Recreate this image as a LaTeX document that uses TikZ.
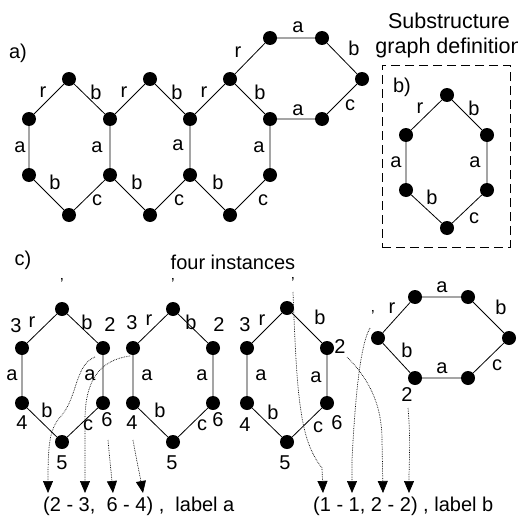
\documentclass[tikz,border=0pt]{standalone}
\usepackage{fontspec}
\setmainfont{Liberation Sans}
\usetikzlibrary{arrows.meta, positioning}
\tikzstyle{vertex} = [circle, fill=black, inner sep=0pt, minimum size=14pt]
\tikzstyle{elabel} = [inner sep=0pt]
\tikzstyle{bond} = [line width=0.8pt]
\tikzstyle{tick} = [inner sep=0pt, font=\fontsize{16}{16}\selectfont]
\tikzstyle{mapline} = [densely dotted, line width=0.7pt, -{Triangle[length=12pt,width=10pt]}]
\tikzstyle{subbox} = [draw, dash pattern=on 9pt off 5pt, line width=0.8pt, minimum width=128pt, minimum height=182pt]

\begin{document}
\begin{tikzpicture}[x=1pt, y=-1pt, font=\fontsize{20}{25}\selectfont]
	\useasboundingbox (0,0) rectangle (518,519);
	% a) the input graph
	\node[elabel] (parta) at (18,53) {a)};
	\node[vertex] (a1t) at (69,79) {};
	\node[vertex] (a1ul) at (29,119) {};
	\node[vertex] (a1ll) at (29,175) {};
	\node[vertex] (a1b) at (69,215) {};
	\node[vertex] (a12u) at (110,119) {};
	\node[vertex] (a12l) at (110,175) {};
	\node[vertex] (a2t) at (150,79) {};
	\node[vertex] (a2b) at (150,215) {};
	\node[vertex] (a23u) at (190,119) {};
	\node[vertex] (a23l) at (190,175) {};
	\node[vertex] (a3t) at (230,79) {};
	\node[vertex] (a3b) at (230,215) {};
	\node[vertex] (a3u) at (270,119) {};
	\node[vertex] (a3l) at (270,175) {};
	\node[vertex] (a4t) at (270,38) {};
	\node[vertex] (a4tr) at (322,38) {};
	\node[vertex] (a4r) at (362,79) {};
	\node[vertex] (a4br) at (322,119) {};
	\draw[bond] (a1ul) -- (a1t) -- (a12u) -- (a12l) -- (a1b) -- (a1ll) -- (a1ul);
	\draw[bond] (a12u) -- (a2t) -- (a23u) -- (a23l) -- (a2b) -- (a12l);
	\draw[bond] (a23u) -- (a3t) -- (a3u) -- (a3l) -- (a3b) -- (a23l);
	\draw[bond] (a3t) -- (a4t) -- (a4tr) -- (a4r) -- (a4br) -- (a3u);
	\node[elabel] (la1) at (43,92) {r};
	\node[elabel] (la2) at (96,92) {b};
	\node[elabel] (la3) at (20,147) {a};
	\node[elabel] (la4) at (55,182) {b};
	\node[elabel] (la5) at (97,200) {c};
	\node[elabel] (la6) at (124,92) {r};
	\node[elabel] (la7) at (177,92) {b};
	\node[elabel] (la8) at (97,147) {a};
	\node[elabel] (la9) at (137,182) {b};
	\node[elabel] (la10) at (179,200) {c};
	\node[elabel] (la11) at (204,92) {r};
	\node[elabel] (la12) at (260,92) {b};
	\node[elabel] (la13) at (178,145) {a};
	\node[elabel] (la14) at (218,182) {b};
	\node[elabel] (la15) at (263,200) {c};
	\node[elabel] (la16) at (259,147) {a};
	\node[elabel] (la17) at (238,52) {r};
	\node[elabel] (la18) at (298,27) {a};
	\node[elabel] (la19) at (354,48) {b};
	\node[elabel] (la20) at (350,105) {c};
	\node[elabel] (la21) at (298,110) {a};
	% b) the substructure
	\node[align=center, inner sep=0pt, font=\fontsize{21.5}{25}\selectfont] (deftitle) at (449,35) {Substructure\\graph definition};
	\node[subbox] (defbox) at (446,156) {};
	\node[elabel] (partb) at (402,87) {b)};
	\node[vertex] (bt) at (447,95) {};
	\node[vertex] (bul) at (406,135) {};
	\node[vertex] (bll) at (406,190) {};
	\node[vertex] (bb) at (447,228) {};
	\node[vertex] (bur) at (487,135) {};
	\node[vertex] (blr) at (487,190) {};
	\draw[bond] (bul) -- (bt) -- (bur) -- (blr) -- (bb) -- (bll) -- (bul);
	\node[elabel] (lb1) at (420,108) {r};
	\node[elabel] (lb2) at (474,108) {b};
	\node[elabel] (lb3) at (396,162) {a};
	\node[elabel] (lb4) at (475,162) {a};
	\node[elabel] (lb5) at (432,197) {b};
	\node[elabel] (lb6) at (474,218) {c};
	% c) the instances
	\node[elabel] (partc) at (23,260) {c)};
	\node[elabel] (inst) at (233,262) {four instances};
	% instance 1
	\node[vertex] (c1t) at (62,309) {};
	\node[vertex] (c1ul) at (22,348) {};
	\node[vertex] (c1ll) at (22,403) {};
	\node[vertex] (c1b) at (62,442) {};
	\node[vertex] (c1ur) at (103,348) {};
	\node[vertex] (c1lr) at (103,403) {};
	\draw[bond] (c1ul) -- (c1t) -- (c1ur) -- (c1lr) -- (c1b) -- (c1ll) -- (c1ul);
	\node[tick] (k1) at (62,284) {’};
	\node[elabel] (n1a) at (16,326) {3};
	\node[elabel] (l1a) at (32,322) {r};
	\node[elabel] (l1b) at (87,322) {b};
	\node[elabel] (n1b) at (110,325) {2};
	\node[elabel] (l1c) at (12,375) {a};
	\node[elabel] (l1d) at (90,375) {a};
	\node[elabel] (l1e) at (47,410) {b};
	\node[elabel] (n1c) at (22,423) {4};
	\node[elabel] (l1f) at (88,425) {c};
	\node[elabel] (n1d) at (107,420) {6};
	\node[elabel] (n1e) at (62,463) {5};
	% instance 2
	\node[vertex] (c2t) at (173,309) {};
	\node[vertex] (c2ul) at (133,348) {};
	\node[vertex] (c2ll) at (133,403) {};
	\node[vertex] (c2b) at (173,442) {};
	\node[vertex] (c2ur) at (213,348) {};
	\node[vertex] (c2lr) at (213,403) {};
	\draw[bond] (c2ul) -- (c2t) -- (c2ur) -- (c2lr) -- (c2b) -- (c2ll) -- (c2ul);
	\node[tick] (k2) at (173,284) {’};
	\node[elabel] (n2a) at (132,323) {3};
	\node[elabel] (l2a) at (149,320) {r};
	\node[elabel] (l2b) at (191,322) {b};
	\node[elabel] (n2b) at (219,325) {2};
	\node[elabel] (l2c) at (147,375) {a};
	\node[elabel] (l2d) at (202,375) {a};
	\node[elabel] (l2e) at (160,410) {b};
	\node[elabel] (n2c) at (132,423) {4};
	\node[elabel] (l2f) at (202,425) {c};
	\node[elabel] (n2d) at (218,420) {6};
	\node[elabel] (n2e) at (172,463) {5};
	% instance 3
	\node[vertex] (c3t) at (287,308) {};
	\node[vertex] (c3ul) at (247,348) {};
	\node[vertex] (c3ll) at (247,403) {};
	\node[vertex] (c3b) at (287,442) {};
	\node[vertex] (c3ur) at (327,348) {};
	\node[vertex] (c3lr) at (327,403) {};
	\draw[bond] (c3ul) -- (c3t) -- (c3ur) -- (c3lr) -- (c3b) -- (c3ll) -- (c3ul);
	\node[tick] (k3) at (293,283) {’};
	\node[elabel] (n3a) at (245,325) {3};
	\node[elabel] (l3a) at (262,320) {r};
	\node[elabel] (l3b) at (320,317) {b};
	\node[elabel] (n3b) at (340,347) {2};
	\node[elabel] (l3c) at (261,375) {a};
	\node[elabel] (l3d) at (316,377) {a};
	\node[elabel] (l3e) at (273,412) {b};
	\node[elabel] (n3c) at (245,425) {4};
	\node[elabel] (l3f) at (318,427) {c};
	\node[elabel] (n3d) at (337,423) {6};
	\node[elabel] (n3e) at (285,463) {5};
	% instance 4
	\node[vertex] (c4l) at (378,338) {};
	\node[vertex] (c4ul) at (415,297) {};
	\node[vertex] (c4ur) at (468,297) {};
	\node[vertex] (c4r) at (509,338) {};
	\node[vertex] (c4lr) at (468,378) {};
	\node[vertex] (c4ll) at (415,378) {};
	\draw[bond] (c4l) -- (c4ul) -- (c4ur) -- (c4r) -- (c4lr) -- (c4ll) -- (c4l);
	\node[tick] (k4) at (373,316) {’};
	\node[elabel] (l4a) at (392,308) {r};
	\node[elabel] (l4b) at (442,287) {a};
	\node[elabel] (l4c) at (501,307) {b};
	\node[elabel] (l4d) at (497,365) {c};
	\node[elabel] (l4e) at (442,368) {a};
	\node[elabel] (l4f) at (407,350) {b};
	\node[elabel] (n4a) at (407,395) {2};
	% the mappings
	\node[elabel, anchor=west] (mapa) at (43,506) {(2 - 3,\ \ 6 - 4) ,\ \ label a};
	\node[elabel, anchor=west] (mapb) at (313,506) {(1 - 1, 2 - 2) , label b};
	\coordinate (s1) at (95,357);
	\coordinate (s2) at (130,356);
	\coordinate (s3) at (108,440);
	\coordinate (s4) at (133,440);
	\coordinate (s5) at (293,292);
	\coordinate (s6) at (370,328);
	\coordinate (s7) at (347,357);
	\coordinate (s8) at (408,408);
	\coordinate (e1) at (48,493);
	\coordinate (e2) at (85,493);
	\coordinate (e3) at (113,493);
	\coordinate (e4) at (143,493);
	\coordinate (e5) at (323,493);
	\coordinate (e6) at (352,493);
	\coordinate (e7) at (383,493);
	\coordinate (e8) at (409,493);
	\draw[mapline] (s1) .. controls (75,365) and (78,395) .. (62,415) .. controls (50,428) and (48,440) .. (e1);
	\draw[mapline] (s2) .. controls (100,360) and (85,380) .. (85,420) -- (e2);
	\draw[mapline] (s3) to[out=-85, in=95] (e3);
	\draw[mapline] (s4) to[out=-80, in=100] (e4);
	\draw[mapline] (s5) .. controls (297,400) and (300,440) .. (322,468) -- (e5);
	\draw[mapline] (s6) .. controls (360,345) and (355,400) .. (352,460) -- (e6);
	\draw[mapline] (s7) .. controls (365,375) and (382,400) .. (382,440) -- (e7);
	\draw[mapline] (s8) to[out=-85, in=90] (e8);
\end{tikzpicture}
\end{document}
